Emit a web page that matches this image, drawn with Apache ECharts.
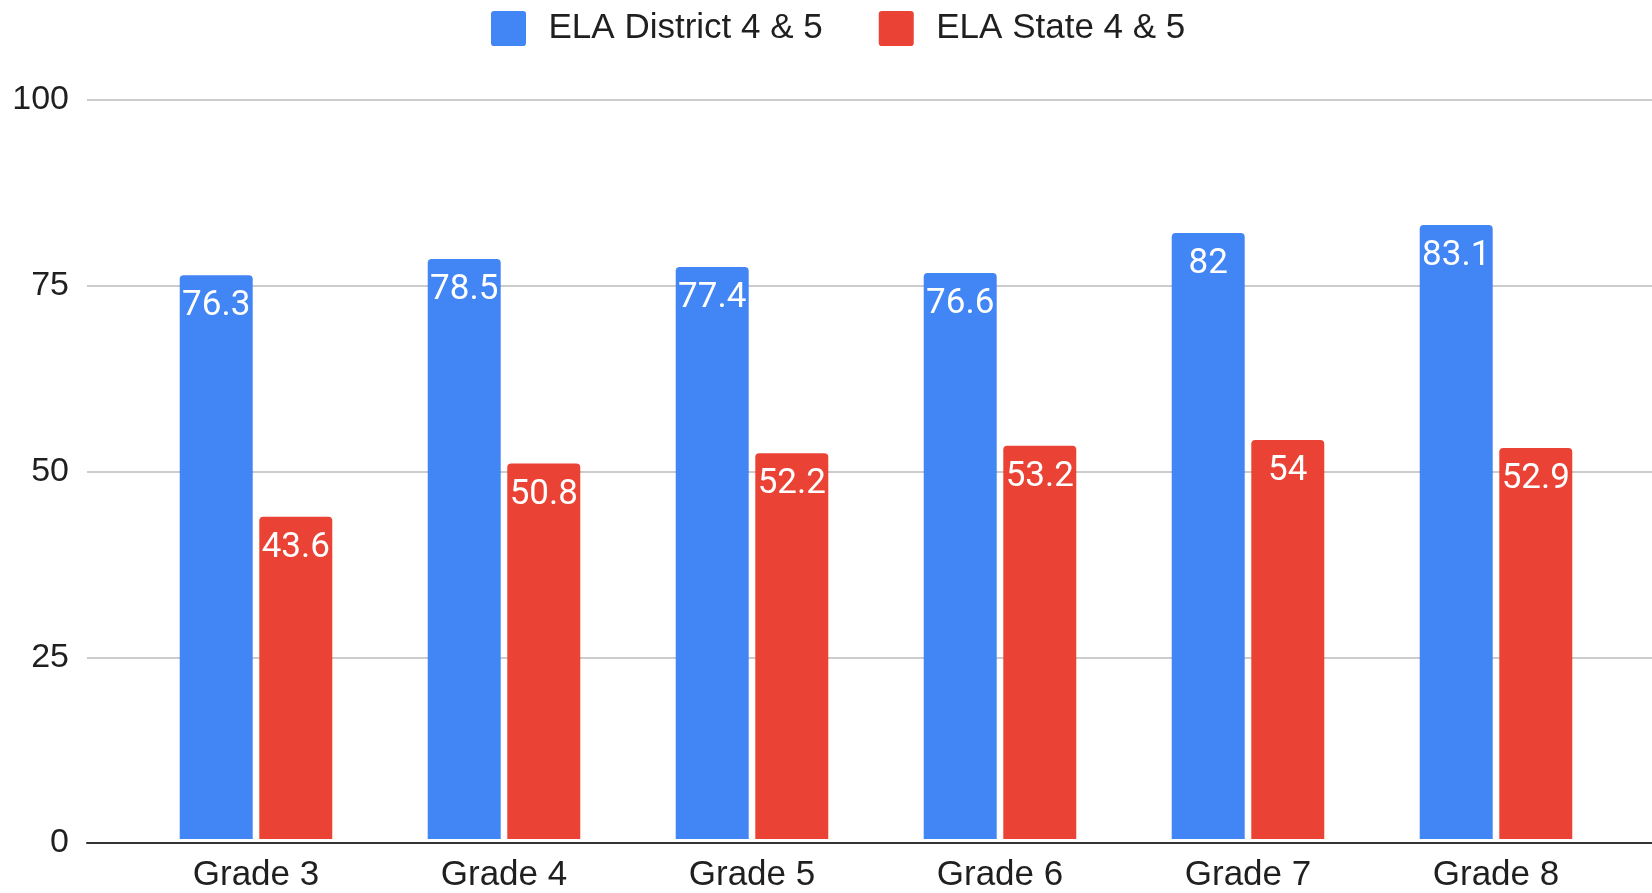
<!DOCTYPE html>
<html>
<head>
<meta charset="utf-8">
<script src="https://cdn.jsdelivr.net/npm/echarts@6/dist/echarts.min.js"></script>
<style>html,body{margin:0;padding:0;background:#fff;}#c{width:1652px;height:893px;}</style>
</head>
<body>
<div id="c"></div>
<script>
const categories = ['Grade 3','Grade 4','Grade 5','Grade 6','Grade 7','Grade 8'];
const districtValues = [76.3, 78.5, 77.4, 76.6, 82, 83.1];
const stateValues = [43.6, 50.8, 52.2, 53.2, 54, 52.9];
const seriesNames = ['ELA District 4 & 5', 'ELA State 4 & 5'];
const yTicks = [0, 25, 50, 75, 100];

const chart = echarts.init(document.getElementById('c'), null, {renderer:'canvas'});
const sansFont = '"Liberation Sans", Arial, sans-serif';
const labelStyle = {
  show: true, position: 'insideTop', distance: 14, color: '#fff',
  fontFamily: 'Roboto, sans-serif', fontSize: 35
};
const squareIcon = 'path://M3,0 H31 Q34,0 34,3 V31 Q34,34 31,34 H3 Q0,34 0,31 V3 Q0,0 3,0 Z';
chart.setOption({
  animation: false,
  legend: {
    left: 486, top: 6,
    itemWidth: 36, itemHeight: 35, itemGap: 56,
    icon: squareIcon,
    textStyle: {fontFamily: sansFont, fontSize: 35, color: '#1f1f1f', padding: [0,0,0,17]},
    data: seriesNames
  },
  grid: [
    {left: 87, right: 0, top: 100, bottom: 50},
    {left: 132, right: 32, top: 100, bottom: 50}
  ],
  xAxis: [
    {gridIndex: 0, type: 'category', data: categories,
     axisLine: {show: true, lineStyle: {color: '#333', width: 2}},
     axisTick: {show: false}, axisLabel: {show: false}},
    {gridIndex: 1, type: 'category', data: categories,
     axisLine: {show: false}, axisTick: {show: false},
     axisLabel: {fontFamily: sansFont, fontSize: 35, color: '#1f1f1f', margin: 19}}
  ],
  yAxis: [
    {gridIndex: 0, type: 'value', min: yTicks[0], max: yTicks[yTicks.length-1], interval: 25,
     axisLine: {show: false}, axisTick: {show: false},
     axisLabel: {fontFamily: sansFont, fontSize: 34, color: '#1f1f1f', margin: 18},
     splitLine: {lineStyle: {color: '#cccccc', width: 2}}},
    {gridIndex: 1, type: 'value', min: 0, max: 100, interval: 25, show: false,
     splitLine: {show: false}}
  ],
  series: [
    {name: seriesNames[0], type: 'bar', xAxisIndex: 1, yAxisIndex: 1,
     data: districtValues, barWidth: 73, barGap: '9%',
     itemStyle: {color: '#4285F4', borderRadius: [4,4,0,0]}, label: labelStyle},
    {name: seriesNames[1], type: 'bar', xAxisIndex: 1, yAxisIndex: 1,
     data: stateValues, barWidth: 73, barGap: '9%',
     itemStyle: {color: '#EA4335', borderRadius: [4,4,0,0]}, label: labelStyle}
  ]
});
</script>
</body>
</html>
